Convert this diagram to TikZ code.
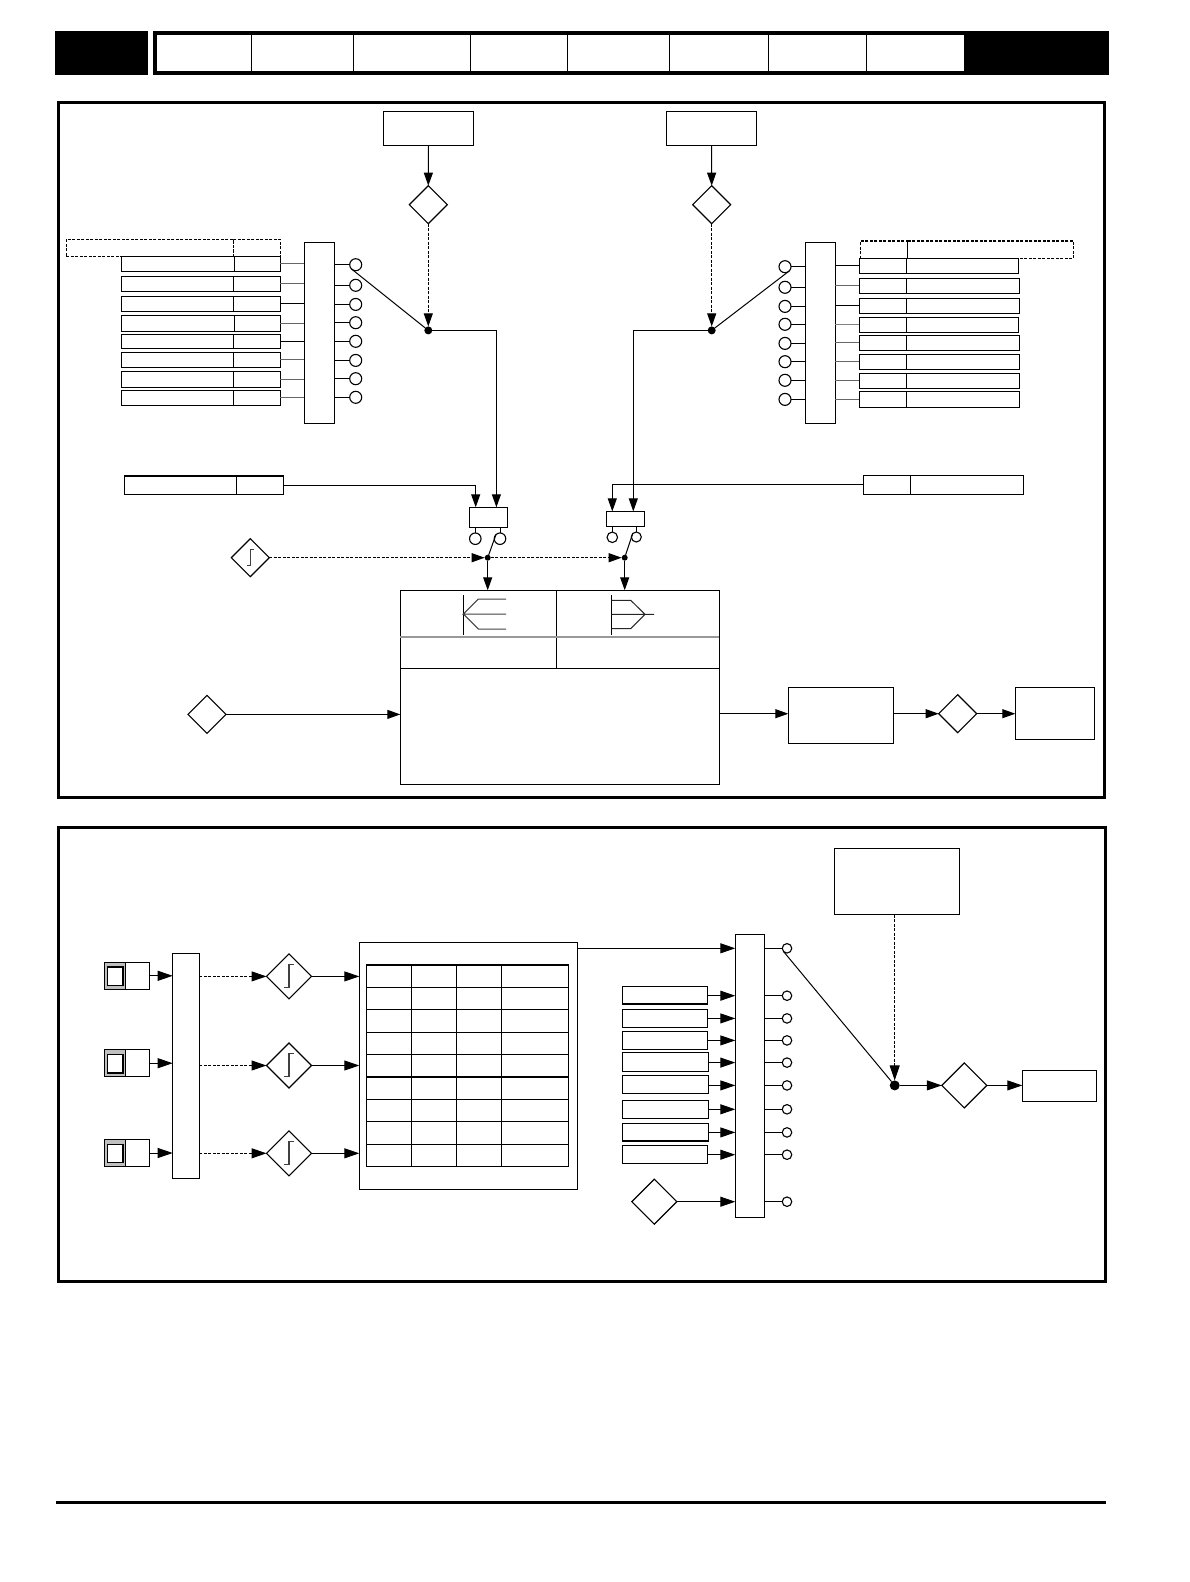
\documentclass[tikz,border=0pt]{standalone}
\usepackage{tikz}
\usetikzlibrary{arrows.meta}
\usetikzlibrary{shapes.geometric}
\tikzset{
	blockn/.style={draw, rectangle, inner sep=0, outer sep=0, line width=1.1pt},
	thickn/.style={blockn, line width=1.5pt},
	framen/.style={blockn, line width=3pt},
	dashedn/.style={blockn, dashed, dash pattern=on 3pt off 1.5pt},
	diam/.style={draw, diamond, aspect=1, inner sep=0, outer sep=0, line width=1.1pt, minimum width=#1pt, minimum height=#1pt},
	ring/.style={draw, circle, fill=white, inner sep=0, outer sep=0, line width=1.1pt, minimum size=#1pt},
	dot/.style={fill=black, circle, inner sep=0, outer sep=0, minimum size=#1pt},
	wire/.style={line width=1pt},
	sig/.style={wire, ->},
	dsig/.style={wire, ->, dashed, dash pattern=on 3pt off 1.5pt},
	rampsym/.pic={\draw[line width=1.1pt, black!75] (-5,11.3) -- (0,11.3) -- (0,-11.7) -- (5,-11.7);},
}
% box from its top left corner (x0,y0) to its bottom right corner (x1,y1)
\newcommand{\blk}[6][blockn]{%
	\pgfmathsetmacro{\blkw}{#5-#3}%
	\pgfmathsetmacro{\blkh}{#6-#4}%
	\node[#1, anchor=north west, minimum width=\blkw pt, minimum height=\blkh pt] (#2) at (#3,#4) {};%
}
\begin{document}
\begin{tikzpicture}[x=1pt, y=-1pt, >={Triangle[length=13pt,width=9pt]}]
\useasboundingbox (0,0) rectangle (1190,1582);

% header
\blk[fill=black, inner sep=0, outer sep=0]{headl}{55}{31}{148}{75}
\blk[fill=black, inner sep=0, outer sep=0]{headr}{153}{31}{1109}{75}
\blk[fill=white, inner sep=0, outer sep=0]{tabs}{157}{35}{964}{71}
\foreach \x in {251.7, 353.3, 470.3, 567.2, 669.3, 768.3, 866.3}
	\draw[wire] (\x,35) -- (\x,71);

% frames
\blk[framen]{panela}{58.5}{102.5}{1104.5}{797.5}
\blk[framen]{panelb}{58.5}{827.5}{1105}{1281.5}
\draw[line width=3pt] (56,1502.7) -- (1106,1502.7);

% upper panel, selector parts
\blk{seta}{383.3}{111.3}{473.7}{145.3}
\blk{setb}{666.3}{111.3}{756.7}{145.3}
\node[diam=38] (da) at (428.3,204.7) {};
\node[diam=38] (db) at (711.7,204.7) {};
\node[dot=8] (ja) at (428.3,330.4) {};
\node[dot=8] (jb) at (711.7,330.4) {};
\draw[sig] (seta.south) -- (da.north);
\draw[sig] (setb.south) -- (db.north);
\draw[dsig] (da.south) -- (ja.north);
\draw[dsig] (db.south) -- (jb.north);

\blk{muxl}{304.3}{242.3}{334.3}{423.3}
\blk{muxr}{805.3}{242.3}{835.3}{423.3}

% left column
\blk[dashedn]{hln}{66.3}{239.3}{233.3}{256.3}
\blk[dashedn]{hlv}{233.3}{239.3}{280.3}{256.3}
\foreach \ya/\yb/\xd/\col [count=\i] in {
	256.3/271.3/234.3/black!60, 276.3/291.3/233.3/black!60,
	296.3/311.3/233.3/black, 315.3/331.3/234.3/black!60,
	334.3/348.3/233.3/black, 352.3/367.3/233.3/black!60,
	371.3/387.3/233.3/black!60, 390.3/405.3/233.3/black!60} {
	\blk{lpn\i}{121.3}{\ya}{\xd}{\yb}
	\blk{lpv\i}{\xd}{\ya}{280.3}{\yb}
	\draw[wire, \col] (lpv\i.east) -- (lpv\i.east -| muxl.west);
}
\foreach \y [count=\i] in {264.7, 285.3, 304.4, 322.7, 341.3, 360.4, 378.7, 397.3} {
	\node[ring=12] (cl\i) at (355.7,\y) {};
	\draw[wire] (muxl.east |- cl\i) -- (cl\i.west);
}
\draw[wire] (cl1.south west) -- (ja);

% right column
\blk[dashedn]{hrv}{860.3}{241}{907.3}{258.3}
\blk[dashedn]{hrn}{907.3}{241}{1073.7}{258.3}
\foreach \ya/\yb/\xr/\col [count=\i] in {
	258.3/273.3/1018.7/black, 278.3/293.3/1019.7/black!60,
	298.3/313.3/1019.7/black, 317.3/332.3/1018.7/black!50,
	335.3/350.3/1019.7/black!60, 354.3/369.3/1019.7/black!60,
	373.3/388.3/1019.7/black!60, 391.3/407.3/1019.7/black!60} {
	\blk{rpv\i}{859.3}{\ya}{906.7}{\yb}
	\blk{rpn\i}{906.7}{\ya}{\xr}{\yb}
	\draw[wire, \col] (rpv\i.west) -- (rpv\i.west -| muxr.east);
}
\foreach \y [count=\i] in {266.7, 287.3, 306.4, 324.3, 343.4, 361.7, 380.3, 399.4} {
	\node[ring=12] (cr\i) at (785,\y) {};
	\draw[wire] (muxr.west |- cr\i) -- (cr\i.east);
}
\draw[wire] (cr1.south east) -- (jb);

% the two small selectors
\blk{tl}{124.3}{476}{236.3}{494.3}
\blk{tlv}{236.3}{476}{283.3}{494.3}
\blk{trv}{863.3}{475.3}{910.3}{494.3}
\blk{tr}{910.3}{475.3}{1023.3}{494.3}
\blk{sela}{469.3}{507.3}{507.7}{527.7}
\blk{selb}{606.3}{511.4}{644.7}{526.7}
\coordinate (sa1) at (475.7,507.3);
\coordinate (sa2) at (496.4,507.3);
\coordinate (sb1) at (612.3,511.4);
\coordinate (sb2) at (633.3,511.4);
\draw[sig] (tlv.east) -| (sa1);
\draw[sig] (ja.east) -| (sa2);
\draw[sig] (trv.west) -| (sb1);
\draw[sig] (jb.west) -| (sb2);

\node[ring=11.5] (csa1) at (475.3,538.7) {};
\node[ring=11.5] (csa2) at (500,538.7) {};
\node[ring=10.5] (csb1) at (612.3,537.3) {};
\node[ring=10] (csb2) at (636.3,537) {};
\foreach \c/\s in {csa1/sela, csa2/sela, csb1/selb, csb2/selb}
	\draw[wire] (\s.south -| \c) -- (\c.north);
\node[dot=6] (dota) at (487.7,557.7) {};
\node[dot=6] (dotb) at (624.7,557.7) {};
\draw[wire] (dota) -- (csa2.north west);
\draw[wire] (dotb) -- (csb2.north west);

\node[diam=38] (dramp) at (250.3,557.7) {};
\pic[scale=0.7] at (dramp) {rampsym};
\draw[dsig] (dramp.east) -- (dota.west);
\draw[dsig] (dota.east) -- (dotb.west);

% encoder block
\blk{bca}{400.3}{590.3}{556.3}{668.3}
\blk{bcb}{556.3}{590.3}{719.3}{668.3}
\blk{bcd}{400.3}{668.3}{719.3}{784.3}
\draw[line width=1.5pt, black!40] (bca.west |- 0,637) -- (bcb.east |- 0,637);
\draw[sig] (dota.south) -- (dota.south |- bca.north);
\draw[sig] (dotb.south) -- (dotb.south |- bcb.north);
\draw[wire] (463.3,595) -- (463.3,634.7);
\draw[wire, black!75] (506,599) -- (478.3,599) -- (463.3,614) -- (506,614) (463.3,614) -- (478.3,629) -- (506,629);
\draw[wire] (611.3,595) -- (611.3,634.7);
\draw[wire, black!85] (611.3,600.3) -- (630.7,600.3) -- (645,614.3) -- (630.7,628.7) -- (611.3,628.7) (611.3,614.3) -- (654,614.3);

\node[diam=38] (din) at (207,714.4) {};
\draw[sig] (din.east) -- (din.east -| bcd.west);
\blk{obx}{788.3}{687.3}{893.7}{743.3}
\node[diam=38] (dout) at (957.7,713.7) {};
\blk{oby}{1015.3}{687.3}{1094.7}{739.3}
\draw[sig] (bcd.east |- dout) -- (obx.west |- dout);
\draw[sig] (obx.east |- dout) -- (dout.west);
\draw[sig] (dout.east) -- (dout.east -| oby.west);

\begin{scope}[>={Triangle[length=15pt,width=10pt]}]
% lower panel, inputs
\blk{barp}{172.7}{953.3}{199.3}{1178.3}
\blk{tabb}{359.3}{942.7}{577.7}{1189.3}
\foreach \ya/\yb/\yc/\ye [count=\i] in {
	962.3/989.3/967/985.7, 1049.7/1076.7/1054.3/1073, 1139.7/1166.3/1144.3/1162.7} {
	\blk[blockn, fill=black!25]{ipg\i}{104.3}{\ya}{125.3}{\yb}
	\blk[blockn, fill=white]{ipw\i}{107.3}{\yc}{123}{\ye}
	\blk{ipv\i}{125.3}{\ya}{149.7}{\yb}
	\draw[sig] (ipv\i.east) -- (ipv\i.east -| barp.west);
}
\foreach \y [count=\i] in {976.4, 1065.5, 1153.3} {
	\node[diam=45] (rd\i) at (289,\y) {};
	\pic at (rd\i) {rampsym};
	\draw[dsig] (barp.east |- rd\i) -- (rd\i.west);
	\draw[sig] (rd\i.east) -- (rd\i.east -| tabb.west);
}

% table
\foreach \ya/\yb [count=\i] in {964.7/987.3, 987.3/1009.3, 1009.3/1032.3, 1032.3/1054.3, 1054.3/1076.7,
	1076.7/1099.3, 1099.3/1121.3, 1121.3/1144.3, 1144.3/1166.3} {
	\foreach \xa/\xb [count=\j] in {366.3/411.3, 411.3/456.3, 456.3/501.3, 501.3/568.7} {
		\blk{cell\i-\j}{\xa}{\ya}{\xb}{\yb}
	}
}
\draw[line width=2pt] (cell1-1.north west) -- (cell1-4.north east);
\draw[line width=2pt] (cell6-1.north west) -- (cell6-4.north east);

% lower panel, output selector
\blk{muxq}{735.3}{934.7}{764.7}{1217.3}
\foreach \y [count=\i from 0] in {948.3, 995.7, 1018.4, 1040.4, 1062.6, 1085.4, 1109.3, 1132.4, 1154.7, 1201.7} {
	\node[ring=9.5] (oc\i) at (787,\y) {};
	\draw[wire] (muxq.east |- oc\i) -- (oc\i.west);
}
\foreach \ya/\yb/\xr [count=\i] in {
	986.3/1004/707.7, 1009.3/1027.3/707.7, 1031.7/1049.3/707.7, 1052.3/1071.3/708.7,
	1075.3/1093.3/708.7, 1100.3/1118.3/708.7, 1123.3/1141/708.7, 1145.7/1163.3/707.7} {
	\blk[thickn]{qr\i}{622.7}{\ya}{\xr}{\yb}
	\draw[sig] (qr\i.east |- oc\i) -- (muxq.west |- oc\i);
}
\draw[sig] (tabb.east |- oc0) -- (muxq.west |- oc0);
\node[diam=45] (dq) at (654.3,1201.7) {};
\draw[sig] (dq.east) -- (dq.east -| muxq.west);

\blk{setq}{834.3}{848.3}{959.7}{914.7}
\node[dot=10] (jq) at (894.7,1085.4) {};
\node[diam=45] (dr) at (964.3,1085.4) {};
\blk{oq}{1022.3}{1070.3}{1096.7}{1101.7}
\draw[wire] (oc0.south west) -- (jq);
\draw[dsig] (jq.north |- setq.south) -- (jq.north);
\draw[sig] (jq.east) -- (dr.west);
\draw[sig] (dr.east) -- (dr.east -| oq.west);
\end{scope}
\end{tikzpicture}
\end{document}
